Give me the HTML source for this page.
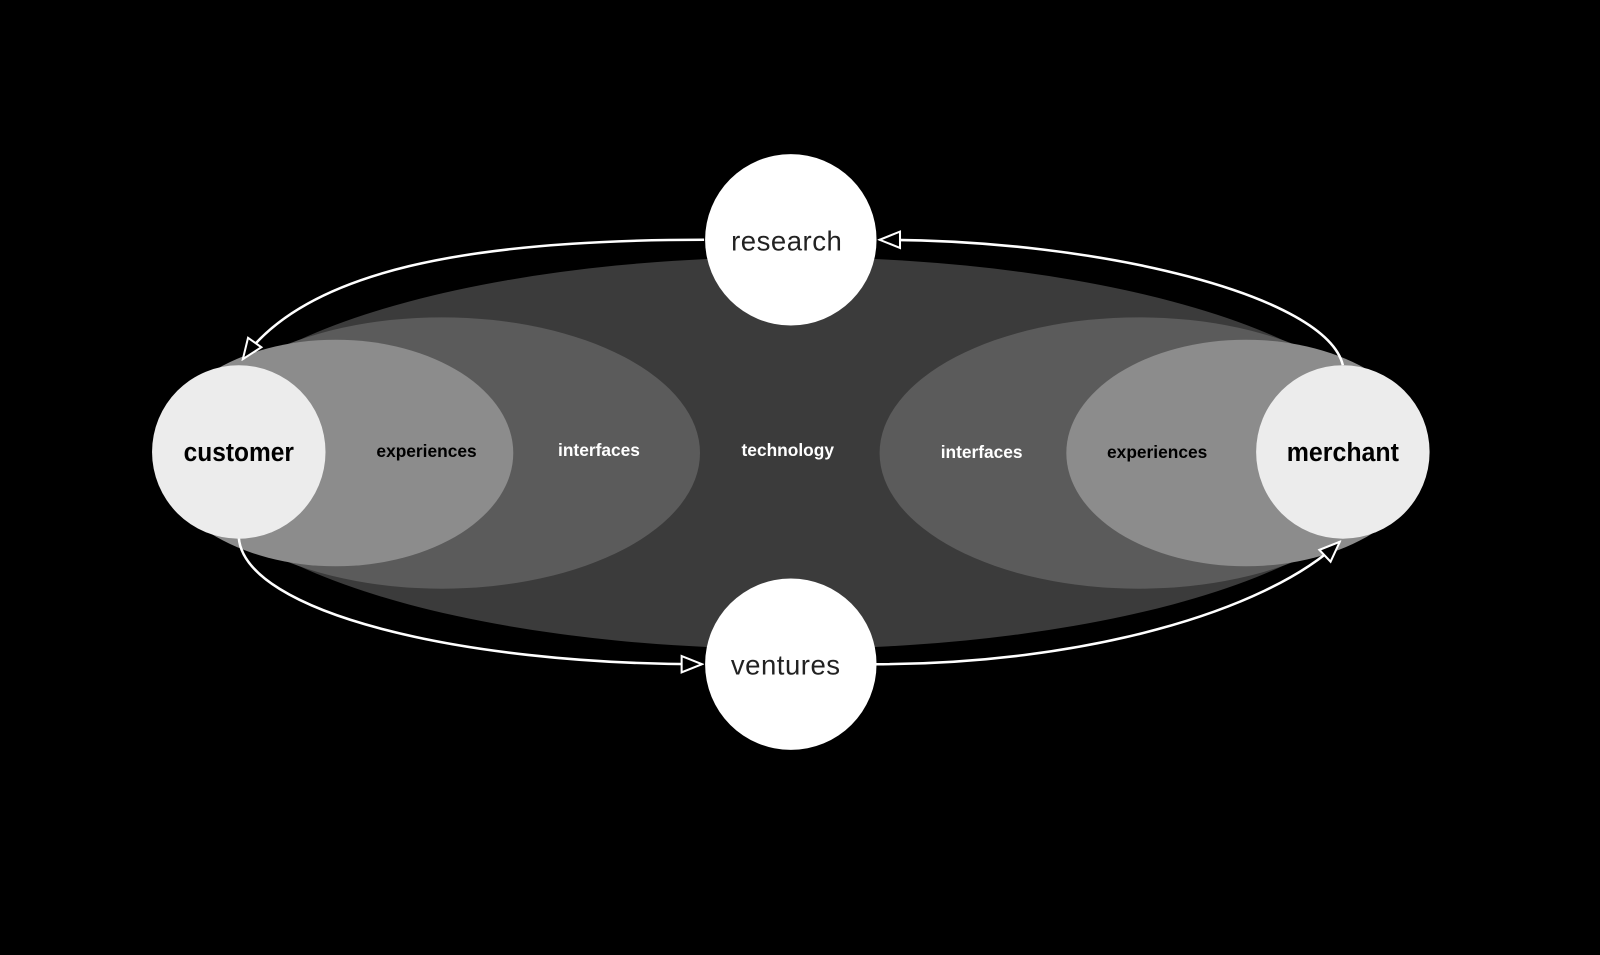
<!DOCTYPE html>
<html><head><meta charset="utf-8"><style>
html,body{margin:0;padding:0;background:#000;}
svg{display:block;}
text{font-family:"Liberation Sans",sans-serif;text-anchor:middle;dominant-baseline:central;}
</style></head><body>
<svg width="1600" height="955" viewBox="0 0 1568 936" preserveAspectRatio="none">
<defs>
<marker id="b" viewBox="0 0 24 24" refX="22" refY="12" markerWidth="24" markerHeight="24" markerUnits="userSpaceOnUse" orient="auto">
<path d="M2 4 L22 12 L2 20 Z" fill="#000" stroke="#fff" stroke-width="2"/>
</marker>
</defs>
<rect width="1568" height="936" fill="#000"/>
<ellipse cx="775" cy="444" rx="590" ry="192" fill="#3b3b3b"/>
<ellipse cx="433" cy="444" rx="253" ry="133" fill="#5b5b5b"/>
<ellipse cx="1116" cy="444" rx="254" ry="133" fill="#5b5b5b"/>
<ellipse cx="329" cy="444" rx="174" ry="111" fill="#8c8c8c"/>
<ellipse cx="1221" cy="444" rx="176" ry="111" fill="#8c8c8c"/>
<path d="M690 235 C 460 235, 300 265, 238 352" fill="none" stroke="#fff" stroke-width="2.5" marker-end="url(#b)"/>
<path d="M1316 358 C 1300 290, 1080 235, 862 235" fill="none" stroke="#fff" stroke-width="2.5" marker-end="url(#b)"/>
<path d="M234 527 C 240 600, 450 651, 688 651" fill="none" stroke="#fff" stroke-width="2.5" marker-end="url(#b)"/>
<path d="M858 651 C 1060 651, 1240 600, 1313 531" fill="none" stroke="#fff" stroke-width="2.5" marker-end="url(#b)"/>
<circle cx="234" cy="443" r="85" fill="#ececec"/>
<circle cx="1316" cy="443" r="85" fill="#ececec"/>
<circle cx="775" cy="235" r="84" fill="#fff"/>
<circle cx="775" cy="651" r="84" fill="#fff"/>
<text x="234" y="444" font-size="25" font-weight="bold" fill="#000" textLength="108" lengthAdjust="spacingAndGlyphs">customer</text>
<text x="1316" y="444" font-size="25" font-weight="bold" fill="#000" textLength="110" lengthAdjust="spacingAndGlyphs">merchant</text>
<text x="418" y="442" font-size="17" font-weight="bold" fill="#000">experiences</text>
<text x="1134" y="443" font-size="17" font-weight="bold" fill="#000">experiences</text>
<text x="587" y="441" font-size="17" font-weight="bold" fill="#fff">interfaces</text>
<text x="962" y="443" font-size="17" font-weight="bold" fill="#fff">interfaces</text>
<text x="772" y="441" font-size="17" font-weight="bold" fill="#fff">technology</text>
<text x="771" y="236" font-size="27" fill="#222" letter-spacing="0.5">research</text>
<text x="770" y="652" font-size="27" fill="#222" letter-spacing="0.5">ventures</text>
</svg>
</body></html>
